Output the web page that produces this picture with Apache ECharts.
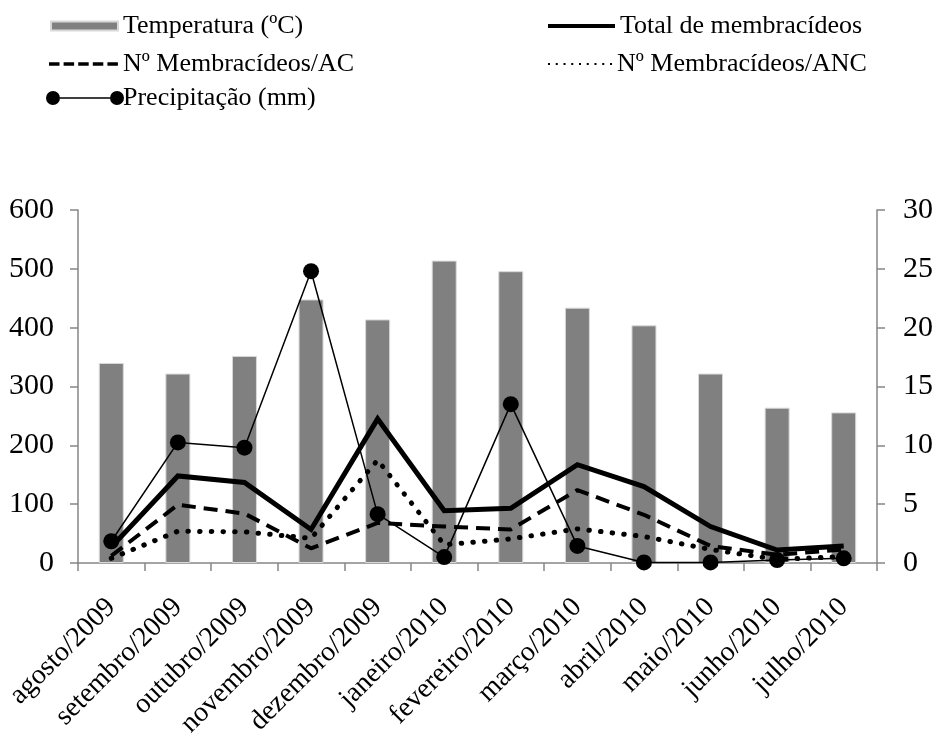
<!DOCTYPE html>
<html>
<head>
<meta charset="utf-8">
<title>Temperatura, precipitação e membracídeos</title>
<script src="https://cdn.jsdelivr.net/npm/echarts@6/dist/echarts.min.js"></script>
<style>
  html, body { margin: 0; padding: 0; background: #fff; }
  #main { width: 936px; height: 734px; }
</style>
</head>
<body>
<div id="main"></div>
<script>
  // meses de coleta
  var meses = ["agosto/2009", "setembro/2009", "outubro/2009", "novembro/2009", "dezembro/2009",
    "janeiro/2010", "fevereiro/2010", "março/2010", "abril/2010", "maio/2010", "junho/2010", "julho/2010"];
  // eixo direito
  var temperatura = [17.0, 16.1, 17.6, 22.4, 20.7, 25.7, 24.8, 21.7, 20.2, 16.1, 13.2, 12.8];
  // eixo esquerdo
  var totalMembracideos = [27, 148, 137, 57, 245, 89, 93, 167, 130, 62, 22, 29];
  var membracideosAC = [12, 99, 84, 25, 68, 62, 57, 124, 82, 29, 14, 23];
  var membracideosANC = [8, 54, 53, 42, 175, 31, 41, 58, 45, 23, 6, 11];
  var precipitacao = [37, 205, 196, 496, 83, 10, 270, 29, 1, 1, 5, 8];

  var serif = "'Liberation Serif', 'DejaVu Serif', serif";
  var axisGray = "#868686";

  var chart = echarts.init(document.getElementById("main"));

  function legendAt(name, left, top, w, h, icon, pad) {
    return {
      data: [{ name: name, icon: icon }],
      left: left,
      top: top,
      itemWidth: w,
      itemHeight: h,
      padding: 0,
      selectedMode: false,
      textStyle: { fontFamily: serif, fontSize: 26, color: "#000", padding: pad || 0 }
    };
  }

  // icones da legenda
  var iconBarra = "path://M0,0 L67,0 L67,9 L0,9 Z";
  var iconTotal = "path://M0,0 L67,0 L67,4 L0,4 Z";
  var iconAC = "path://M0,0 L10.5,0 L10.5,3.5 L0,3.5 Z M14.6,0 L25.1,0 L25.1,3.5 L14.6,3.5 Z M29.2,0 L39.7,0 L39.7,3.5 L29.2,3.5 Z M43.8,0 L54.3,0 L54.3,3.5 L43.8,3.5 Z M58.4,0 L68.9,0 L68.9,3.5 L58.4,3.5 Z";
  var iconANC = "path://M0,0 L2,0 L2,2 L0,2 Z M7.75,0 L9.75,0 L9.75,2 L7.75,2 Z M15.5,0 L17.5,0 L17.5,2 L15.5,2 Z M23.25,0 L25.25,0 L25.25,2 L23.25,2 Z M31,0 L33,0 L33,2 L31,2 Z M38.75,0 L40.75,0 L40.75,2 L38.75,2 Z M46.5,0 L48.5,0 L48.5,2 L46.5,2 Z M54.25,0 L56.25,0 L56.25,2 L54.25,2 Z M62,0 L64,0 L64,2 L62,2 Z";
  var iconPrecip = "path://M0,7 A7,7 0 1,1 14,7 A7,7 0 1,1 0,7 Z M14,6.2 L64,6.2 L64,7.8 L14,7.8 Z M64,7 A7,7 0 1,1 78,7 A7,7 0 1,1 64,7 Z";

  var option = {
    animation: false,
    legend: [
      legendAt("Temperatura (ºC)", 50, 13, 67, 9, iconBarra),
      legendAt("Total de membracídeos", 548, 13, 67, 4, iconTotal),
      legendAt("Nº Membracídeos/AC", 49, 51, 69, 3.5, iconAC),
      legendAt("Nº Membracídeos/ANC", 548, 51, 64, 2, iconANC),
      legendAt("Precipitação (mm)", 46, 85, 78, 14, iconPrecip, [0, 0, 0, -6])
    ],
    grid: { left: 78, right: 59, top: 210, bottom: 171, outerBoundsMode: "none", containLabel: false },
    xAxis: {
      type: "category",
      data: meses,
      boundaryGap: true,
      axisLine: { lineStyle: { color: axisGray, width: 1.5 } },
      axisTick: { show: true, length: 8, lineStyle: { color: axisGray, width: 1.5 } },
      axisLabel: { rotate: 45, interval: 0, margin: 40, fontFamily: serif, fontSize: 28, color: "#000" }
    },
    yAxis: [
      {
        type: "value", min: 0, max: 600, interval: 100,
        splitLine: { show: false },
        axisLine: { show: true, lineStyle: { color: axisGray, width: 1.5 } },
        axisTick: { show: true, length: 8, lineStyle: { color: axisGray, width: 1.5 } },
        axisLabel: { margin: 24, fontFamily: serif, fontSize: 30, color: "#000" }
      },
      {
        type: "value", min: 0, max: 30, interval: 5, position: "right",
        splitLine: { show: false },
        axisLine: { show: true, lineStyle: { color: axisGray, width: 1.5 } },
        axisTick: { show: true, length: 8, lineStyle: { color: axisGray, width: 1.5 } },
        axisLabel: { margin: 26, fontFamily: serif, fontSize: 30, color: "#000" }
      }
    ],
    series: [
      {
        name: "Temperatura (ºC)",
        type: "bar",
        yAxisIndex: 1,
        barWidth: 25,
        itemStyle: { color: "#808080", borderColor: "#d9d9d9", borderWidth: 1 },
        data: temperatura,
        z: 1
      },
      {
        name: "Total de membracídeos",
        type: "line",
        symbol: "none",
        lineStyle: { color: "#000", width: 5, join: "miter" },
        itemStyle: { color: "#000" },
        data: totalMembracideos,
        z: 3
      },
      {
        name: "Nº Membracídeos/AC",
        type: "line",
        symbol: "none",
        lineStyle: { color: "#000", width: 4, type: [14, 8] },
        itemStyle: { color: "#000" },
        data: membracideosAC,
        z: 3
      },
      {
        name: "Nº Membracídeos/ANC",
        type: "line",
        symbol: "none",
        lineStyle: { color: "#000", width: 5, type: [0.5, 11.2], cap: "round" },
        itemStyle: { color: "#000" },
        data: membracideosANC,
        z: 3
      },
      {
        name: "Precipitação (mm)",
        type: "line",
        symbol: "circle",
        symbolSize: 16,
        showAllSymbol: true,
        lineStyle: { color: "#000", width: 1.5 },
        itemStyle: { color: "#000" },
        data: precipitacao,
        z: 4
      }
    ]
  };

  chart.setOption(option);
</script>
</body>
</html>
